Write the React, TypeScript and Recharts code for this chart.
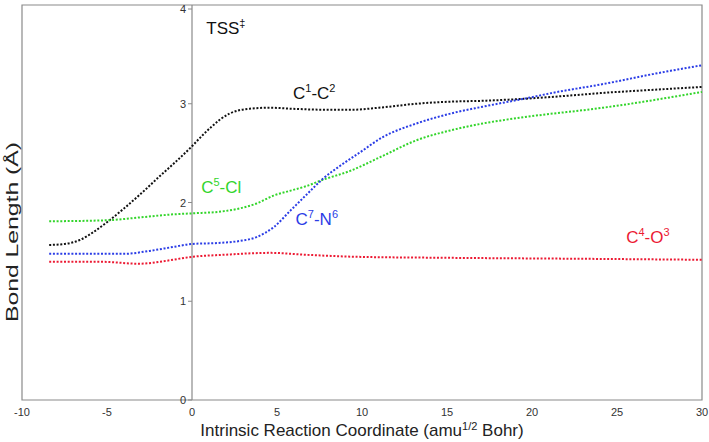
import React from 'react';
import { LineChart, Line, XAxis, YAxis, ReferenceLine, ReferenceArea, ReferenceDot } from 'recharts';

// IRC coordinate (amu^1/2 Bohr) vs bond length (Å)
const c1c2: [number, number][] = [
  [-8.4, 1.57], [-7.5, 1.58], [-6.6, 1.62], [-5.8, 1.7], [-5, 1.8], [-4, 1.94], [-3, 2.09],
  [-2, 2.25], [-1.1, 2.39], [0, 2.57], [0.5, 2.66], [1.1, 2.76], [2.2, 2.9], [3.4, 2.95],
  [4.6, 2.96], [5.8, 2.95], [7.7, 2.94], [9.5, 2.94], [11, 2.96], [13.2, 3.0], [15, 3.02],
  [17.1, 3.03], [19.5, 3.05], [22, 3.08], [24.2, 3.11], [27, 3.14], [30, 3.17],
];

const c7n6: [number, number][] = [
  [-8.4, 1.48], [-6, 1.48], [-4, 1.48], [-2.5, 1.51], [-1.1, 1.55], [0, 1.58], [1.5, 1.59],
  [2.8, 1.61], [3.8, 1.65], [4.8, 1.75], [5.8, 1.92], [6.8, 2.09], [7.7, 2.24], [8.7, 2.37],
  [9.9, 2.51], [11.2, 2.66], [13.2, 2.8], [15.2, 2.9], [17.1, 2.97], [19.8, 3.06], [21.2, 3.11],
  [24.2, 3.2], [27.1, 3.3], [30, 3.39],
];

const c5cl: [number, number][] = [
  [-8.4, 1.81], [-5, 1.82], [-3, 1.85], [-1.1, 1.88], [0, 1.89], [1.8, 1.91], [2.8, 1.94],
  [3.8, 1.99], [4.8, 2.07], [5.8, 2.12], [6.8, 2.17], [7.7, 2.23], [9.3, 2.32], [11.2, 2.47],
  [13.2, 2.63], [15.2, 2.73], [17.1, 2.8], [19.8, 2.87], [24.2, 2.96], [30, 3.12],
];

const c4o3: [number, number][] = [
  [-8.4, 1.4], [-5.4, 1.4], [-3.1, 1.38], [-1.5, 1.41], [0, 1.45], [1.8, 1.47], [4.6, 1.49],
  [6.8, 1.47], [9.7, 1.45], [15, 1.44], [23, 1.43], [30, 1.42],
];

const xTicks = [-10, -5, 0, 5, 10, 15, 20, 25, 30];
const yTicks = [0, 1, 2, 3, 4];

const toRows = (pts: [number, number][]) => pts.map(([x, y]) => ({ x, y }));

const FONT = 'Liberation Sans, Arial, sans-serif';
const AXIS = '#8a8a8a';

// the y axis sits at x = 0, not at the left edge of the plot
const PLOT_LEFT = 22;
const PLOT_W = 680;
const X0 = PLOT_LEFT + (PLOT_W * 10) / 40;

const YTick = ({ y, payload }: any) => (
  <g>
    <line x1={X0 - 4} x2={X0} y1={y} y2={y} stroke={AXIS} />
    <text x={X0 - 6} y={y} dy={4} textAnchor="end" fontSize={11} fill="#333" fontFamily={FONT}>
      {payload.value}
    </text>
  </g>
);

const YTitle = () => (
  <text
    x={18}
    y={232}
    transform="rotate(-90 18 232)"
    textAnchor="middle"
    fontSize={17}
    textLength={180}
    lengthAdjust="spacingAndGlyphs"
    fill="#222"
    fontFamily={FONT}
  >
    Bond Length (Å)
  </text>
);

const XTitle = () => (
  <text x={362} y={436} textAnchor="middle" fontSize={17} fill="#222" fontFamily={FONT}>
    Intrinsic Reaction Coordinate (amu
    <tspan dy={-6} fontSize={11}>1/2</tspan>
    <tspan dy={6}> Bohr)</tspan>
  </text>
);

const Tag = ({ viewBox, a, b, c, d, color }: any) => {
  const x = viewBox?.x ?? 0;
  const y = viewBox?.y ?? 0;
  return (
    <text x={x} y={y} fontSize={17} fill={color} fontFamily={FONT}>
      {a}
      <tspan dy={-7} fontSize={11}>{b}</tspan>
      <tspan dy={7}>{c}</tspan>
      {d ? <tspan dy={-7} fontSize={11}>{d}</tspan> : null}
    </text>
  );
};

export default function App() {
  return (
    <div style={{ position: 'absolute', left: 0, top: 0, background: '#fff' }}>
      <LineChart width={709} height={442} margin={{ top: 5, right: 7, bottom: 0, left: 0 }}>
        <XAxis
          type="number"
          dataKey="x"
          domain={[-10, 30]}
          ticks={xTicks}
          axisLine={false}
          tickLine={false}
          tickSize={0}
          tickMargin={8}
          height={42}
          tick={{ fontSize: 11, fill: '#333', fontFamily: FONT }}
          label={<XTitle />}
        />
        <YAxis
          type="number"
          domain={[0, 4]}
          ticks={yTicks}
          width={22}
          axisLine={false}
          tickLine={false}
          tick={<YTick />}
          label={<YTitle />}
        />
        <ReferenceArea x1={-10} x2={30} y1={0} y2={4} fill="none" stroke={AXIS} strokeWidth={1.2} />
        <ReferenceLine x={0} stroke={AXIS} strokeWidth={1.2} />

        <Line data={toRows(c1c2)} dataKey="y" type="monotone" stroke="#111" strokeWidth={2} strokeDasharray="2 1.7" dot={false} isAnimationActive={false} />
        <Line data={toRows(c5cl)} dataKey="y" type="monotone" stroke="#33d52b" strokeWidth={2} strokeDasharray="2 1.7" dot={false} isAnimationActive={false} />
        <Line data={toRows(c7n6)} dataKey="y" type="monotone" stroke="#2b3de6" strokeWidth={2} strokeDasharray="2 1.7" dot={false} isAnimationActive={false} />
        <Line data={toRows(c4o3)} dataKey="y" type="monotone" stroke="#ec1a33" strokeWidth={2} strokeDasharray="2 1.7" dot={false} isAnimationActive={false} />

        <ReferenceDot x={0.9} y={3.7} r={1} fill="none" stroke="none" label={<Tag a="TSS" b="‡" c="" color="#111" />} />
        <ReferenceDot x={6.0} y={3.04} r={1} fill="none" stroke="none" label={<Tag a="C" b="1" c="-C" d="2" color="#111" />} />
        <ReferenceDot x={0.6} y={2.09} r={1} fill="none" stroke="none" label={<Tag a="C" b="5" c="-Cl" color="#33d52b" />} />
        <ReferenceDot x={6.15} y={1.76} r={1} fill="none" stroke="none" label={<Tag a="C" b="7" c="-N" d="6" color="#2b3de6" />} />
        <ReferenceDot x={25.6} y={1.58} r={1} fill="none" stroke="none" label={<Tag a="C" b="4" c="-O" d="3" color="#ec1a33" />} />
      </LineChart>
    </div>
  );
}
